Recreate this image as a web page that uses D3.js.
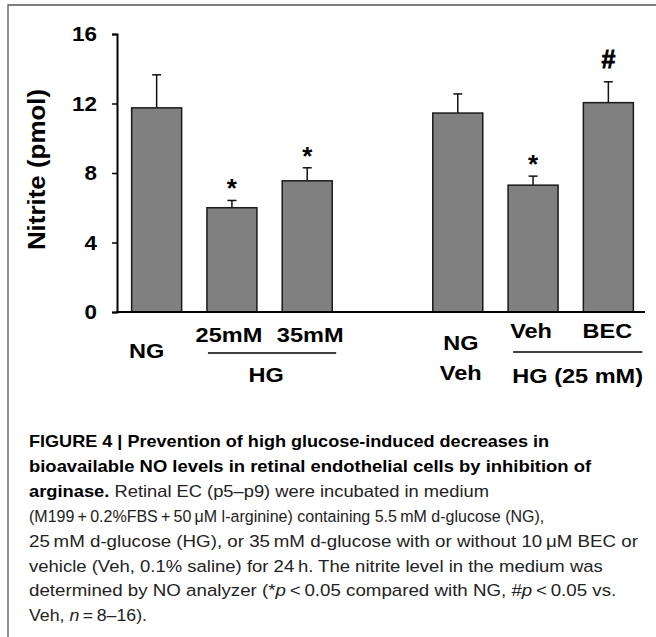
<!DOCTYPE html>
<html>
<head>
  <meta charset="UTF-8">
  <style>
    body { margin: 0; background: #fff; }
    svg { display: block; }
    .chart text { font-family: "Liberation Sans", Arial, sans-serif; font-weight: bold; fill: #000; }
    .caption text { font-family: "Liberation Sans", Arial, sans-serif; font-size: 16.7px; fill: #222; }
  </style>
</head>
<body>
<svg></svg>
<script src="https://d3js.org/d3.v7.min.js"></script>
<script>

let width = 656, height = 637;

// data
const categories = ["NG", "25mM", "35mM", "gap", "NG Veh", "Veh", "BEC"];
const barKeys = ["NG", "25mM", "35mM", "NG Veh", "Veh", "BEC"];
const means = [11.75, 6.0, 7.55, 11.45, 7.3, 12.05];
const errors = [1.9, 0.42, 0.75, 1.1, 0.52, 1.2];
const marks = ["", "*", "*", "", "*", "#"];
const barLabels = [["NG"], ["25mM"], ["35mM"], ["NG", "Veh"], ["Veh"], ["BEC"]];
const groups = [
  { label: "HG", from: "25mM", to: "35mM" },
  { label: "HG (25 mM)", from: "Veh", to: "BEC" }
];
const yTicks = [0, 4, 8, 12, 16];
const yTitle = "Nitrite (pmol)";

const captionLines = [
  [["b", "FIGURE 4 | Prevention of high glucose-induced decreases in"]],
  [["b", "bioavailable NO levels in retinal endothelial cells by inhibition of"]],
  [["b", "arginase."], ["r", " Retinal EC (p5\u2013p9) were incubated in medium"]],
  [["r", "(M199\u2009+\u20090.2%FBS\u2009+\u200950\u2009\u03bcM l-arginine) containing 5.5\u2009mM d-glucose (NG),"]],
  [["r", "25\u2009mM d-glucose (HG), or 35\u2009mM d-glucose with or without 10\u2009\u03bcM BEC or"]],
  [["r", "vehicle (Veh, 0.1% saline) for 24\u2009h. The nitrite level in the medium was"]],
  [["r", "determined by NO analyzer (*"], ["i", "p"], ["r", "\u2009<\u20090.05 compared with NG, #"], ["i", "p"], ["r", "\u2009<\u20090.05 vs."]],
  [["r", "Veh, "], ["i", "n"], ["r", "\u2009=\u20098\u201316)."]]
];
const captionEnds = [549, 591, 489, 544, 638, 603, 616, 147];

let svg = d3.select("svg")
    .attr("width", width)
    .attr("height", height);

// frame of the figure panel
svg.append("path")
    .attr("d", "M8," + height + " L8,5 L" + width + ",5")
    .attr("fill", "none")
    .attr("stroke", "#555")
    .attr("stroke-width", 1.3);

let chart = svg.append("g").attr("class", "chart");

let x = d3.scaleBand()
    .domain(categories)
    .range([119, 646])
    .paddingInner(0.336)
    .paddingOuter(0.168);

let y = d3.scaleLinear()
    .domain([0, 16])
    .range([312, 34]);

const stretch = 1.12;
function widen(sel, k) {
  sel.each(function() {
    let w = this.getComputedTextLength();
    d3.select(this).attr("textLength", w * (k || stretch)).attr("lengthAdjust", "spacingAndGlyphs");
  });
}

// y axis
let yAxis = chart.append("g")
    .attr("transform", "translate(117,0)")
    .call(d3.axisLeft(y).tickValues(yTicks).tickSize(5).tickPadding(15));
yAxis.select(".domain").attr("stroke", "#000").attr("stroke-width", 2);
yAxis.selectAll(".tick line").attr("stroke", "#000").attr("stroke-width", 1.5);
yAxis.selectAll(".tick text")
    .attr("font-size", 20)
    .attr("font-family", null)
    .attr("dy", "0.34em")
    .call(widen);

chart.append("text")
    .attr("transform", "translate(45," + 169.5 + ") rotate(-90)")
    .attr("text-anchor", "middle")
    .attr("font-size", 24)
    .text(yTitle)
    .call(widen, 1.08);

// bars
let bars = chart.append("g");
barKeys.forEach((k, i) => {
  let cx = x(k) + x.bandwidth() / 2;
  bars.append("line")
      .attr("x1", cx).attr("x2", cx)
      .attr("y1", y(means[i])).attr("y2", y(means[i] + errors[i]))
      .attr("stroke", "#111").attr("stroke-width", 1.5);
  bars.append("line")
      .attr("x1", cx - 4.5).attr("x2", cx + 4.5)
      .attr("y1", y(means[i] + errors[i])).attr("y2", y(means[i] + errors[i]))
      .attr("stroke", "#111").attr("stroke-width", 1.5);
  bars.append("rect")
      .attr("x", x(k))
      .attr("y", y(means[i]))
      .attr("width", x.bandwidth())
      .attr("height", y(0) - y(means[i]))
      .attr("fill", "#808080")
      .attr("stroke", "#1a1a1a")
      .attr("stroke-width", 1.5);
  if (marks[i]) {
    chart.append("text")
        .attr("x", cx)
        .attr("y", y(means[i] + errors[i]) - (marks[i] == "#" ? 14 : 3))
        .attr("text-anchor", "middle")
        .attr("font-size", marks[i] == "#" ? 25 : 26)
        .attr("stroke", marks[i] == "#" ? "#000" : "none")
        .attr("stroke-width", 0.8)
        .text(marks[i]);
  }
});

// x axis line
chart.append("line")
    .attr("x1", 116).attr("x2", 645)
    .attr("y1", y(0)).attr("y2", y(0))
    .attr("stroke", "#000").attr("stroke-width", 2);

// category labels under the bars
const labelShift = { "NG": [-10, 46], "25mM": [-3, 30], "35mM": [3, 30], "NG Veh": [3, 38], "Veh": [-2, 26], "BEC": [-1, 26] };
barKeys.forEach((k, i) => {
  let cx = x(k) + x.bandwidth() / 2 + labelShift[k][0];
  barLabels[i].forEach((line, j) => {
    chart.append("text")
        .attr("x", cx)
        .attr("y", y(0) + labelShift[k][1] + j * 30)
        .attr("text-anchor", "middle")
        .attr("font-size", 21)
        .text(line)
        .call(widen);
  });
});

// group brackets
groups.forEach((g, i) => {
  let x0 = x(g.from) + 1 + i * 4;
  let x1 = x(g.to) + x.bandwidth() + 4 + i * 5;
  chart.append("line")
      .attr("x1", x0).attr("x2", x1)
      .attr("y1", y(0) + 41 - i).attr("y2", y(0) + 41 - i)
      .attr("stroke", "#000").attr("stroke-width", 1.5);
  chart.append("text")
      .attr("x", (x0 + x1) / 2 - 6 + i * 6)
      .attr("y", y(0) + 70 + i)
      .attr("text-anchor", "middle")
      .attr("font-size", 21)
      .text(g.label)
      .call(widen);
});

// caption: each line squeezed horizontally to the width it has in the figure
let cap = svg.append("g").attr("class", "caption");
captionLines.forEach((parts, i) => {
  let t = cap.append("text")
      .attr("x", 0)
      .attr("y", 0);
  parts.forEach(p => {
    t.append("tspan")
        .attr("font-weight", p[0] == "b" ? "bold" : "normal")
        .attr("font-style", p[0] == "i" ? "italic" : "normal")
        .attr("fill", p[0] == "b" ? "#000" : "#222")
        .text(p[1]);
  });
  let w = t.node().getComputedTextLength();
  let sx = (captionEnds[i] - 29) / w;
  t.attr("transform", "translate(29," + (447 + i * 24.9) + ") scale(" + sx + ",1)");
});

</script>
</body>
</html>
